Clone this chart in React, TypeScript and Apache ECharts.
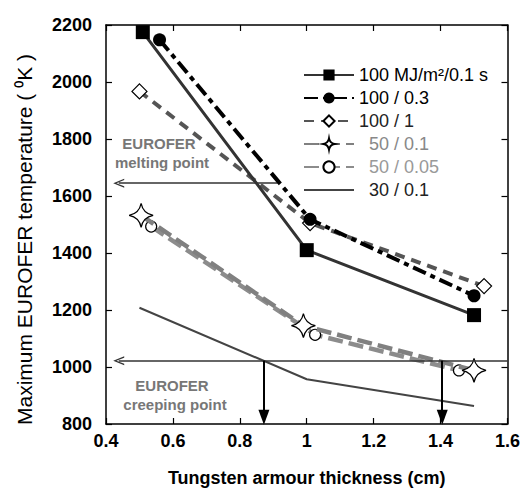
import React, { useEffect, useRef } from "react";
import * as echarts from "echarts";

const FONT = "'Liberation Sans', Arial, Helvetica, sans-serif";

// Legend / series names (display order)
const seriesNames = ["100 MJ/m²/0.1 s", "100 / 0.3", "100 / 1", "  50 / 0.1", "  50 / 0.05", "  30 / 0.1"];

// Tungsten thickness (cm) and max EUROFER temperature (K) for each case
const thickA = [0.51, 1.0, 1.5];
const tempA = [2175, 1410, 1182];
const thickB = [0.56, 1.01, 1.5];
const tempB = [2148, 1518, 1250];
const thickC = [0.5, 1.01, 1.53];
const tempC = [1967, 1505, 1284];
const thickD = [0.505, 0.99, 1.5];
const tempD = [1532, 1145, 988];
const thickE = [0.535, 1.025, 1.455];
const tempE = [1493, 1113, 988];
const thickF = [0.5, 1.0, 1.5];
const tempF = [1208, 957, 863];

// Annotations
const meltingPoint = 1645;
const meltingSpan = [0.438, 0.913];
const creepPoint = 1022;
const creepSpan = [0.438, 1.6];
const creepThickness = [0.872, 1.405];
const axisFloor = 824;

const STAR = "path://M10,0 Q11.6,8.4 20,10 Q11.6,11.6 10,20 Q8.4,11.6 0,10 Q8.4,8.4 10,0 Z";
const CHEVRON = "path://M5,0 L10,11 L8.4,11 L5,3.2 L1.6,11 L0,11 Z";

const pairs = (xs: number[], ys: number[]) => xs.map((x, i) => [x, ys[i]]);

export default function App() {
  const ref = useRef<HTMLDivElement>(null);
  useEffect(() => {
    document.body.style.margin = "0";
    if (!ref.current) return;
    const chart = echarts.init(ref.current, null, { renderer: "svg" });
    const axisCommon = {
      type: "value" as const,
      axisLine: { show: true, onZero: false, lineStyle: { color: "#000", width: 1.5 } },
      axisTick: { show: true, inside: true, length: 6, lineStyle: { color: "#000", width: 1.2 } },
      splitLine: { show: false },
    };
    const hArrow = (y: number, span: number[]) => [
      { coord: [span[0], y], symbol: CHEVRON, symbolSize: [9, 11], lineStyle: { color: "#333", width: 1.5, type: "solid" } },
      { coord: [span[1], y], symbol: "none", lineStyle: { color: "#333", width: 1.5, type: "solid" } },
    ];
    const vArrow = (x: number) => [
      { coord: [x, creepPoint], symbol: "none", lineStyle: { color: "#000", width: 2, type: "solid" } },
      { coord: [x, axisFloor], symbol: "triangle", symbolSize: [11, 15], itemStyle: { color: "#000" }, lineStyle: { color: "#000", width: 2, type: "solid" } },
    ];
    const annotText = { fontWeight: "bold" as const, fill: "#777", fontFamily: FONT, textAlign: "center" as const };
    chart.setOption({
      animation: false,
      backgroundColor: "#fff",
      textStyle: { fontFamily: FONT },
      grid: { left: 106, top: 25, right: 15, bottom: 65 },
      legend: {
        orient: "vertical",
        left: 298,
        top: 61,
        itemWidth: 50,
        itemHeight: 14,
        itemGap: 5,
        selectedMode: false,
        textStyle: { fontSize: 18, fontFamily: FONT, color: "#000" },
        data: [
          { name: seriesNames[0], textStyle: { color: "#000" } },
          { name: seriesNames[1], textStyle: { color: "#000" } },
          { name: seriesNames[2], textStyle: { color: "#222" } },
          { name: seriesNames[3], textStyle: { color: "#888" } },
          { name: seriesNames[4], textStyle: { color: "#999" } },
          { name: seriesNames[5], textStyle: { color: "#222" }, itemStyle: { opacity: 0 } },
        ],
      },
      xAxis: [
        {
          ...axisCommon,
          position: "bottom",
          min: 0.4,
          max: 1.6,
          interval: 0.2,
          name: "Tungsten armour thickness (cm)",
          nameLocation: "middle",
          nameGap: 45,
          nameTextStyle: { fontSize: 18, fontWeight: "bold", color: "#000", fontFamily: FONT },
          axisLabel: { fontSize: 18, fontWeight: "bold", color: "#000", margin: 8, fontFamily: FONT },
        },
        {
          ...axisCommon,
          position: "top",
          min: 0.4,
          max: 1.6,
          interval: 0.2,
          axisLabel: { show: false },
        },
      ],
      yAxis: [
        {
          ...axisCommon,
          position: "left",
          min: 800,
          max: 2200,
          interval: 200,
          name: "Maximum EUROFER temperature ( ⁰K )",
          nameLocation: "middle",
          nameGap: 71,
          nameTextStyle: { fontSize: 21, color: "#000", fontFamily: FONT, padding: [0, 30, 0, 0] },
          axisLabel: { fontSize: 18, fontWeight: "bold", color: "#000", margin: 14, fontFamily: FONT, formatter: (v: number) => String(v) },
        },
        {
          ...axisCommon,
          position: "right",
          min: 800,
          max: 2200,
          interval: 200,
          axisLabel: { show: false },
        },
      ],
      graphic: [
        { type: "text", x: 159, y: 136, style: { ...annotText, text: "EUROFER", fontSize: 15 } },
        { type: "text", x: 162, y: 155, style: { ...annotText, text: "melting point", fontSize: 15 } },
        { type: "text", x: 172, y: 378, style: { ...annotText, text: "EUROFER", fontSize: 15 } },
        { type: "text", x: 175, y: 397, style: { ...annotText, text: "creeping point", fontSize: 15 } },
      ],
      series: [
        {
          name: "annotations",
          type: "line",
          data: [],
          symbol: "none",
          silent: true,
          z: 1,
          markLine: {
            silent: true,
            animation: false,
            label: { show: false },
            emphasis: { disabled: true },
            data: [hArrow(meltingPoint, meltingSpan), hArrow(creepPoint, creepSpan), vArrow(creepThickness[0]), vArrow(creepThickness[1])],
          },
        },
        {
          name: seriesNames[5],
          type: "line",
          data: pairs(thickF, tempF),
          symbol: "none",
          z: 2,
          lineStyle: { color: "#444", width: 2, type: "solid" },
          itemStyle: { color: "#444" },
        },
        {
          name: seriesNames[4],
          type: "line",
          data: pairs(thickE, tempE),
          symbol: "circle",
          symbolSize: 11,
          z: 3,
          lineStyle: { color: "#8c8c8c", width: 4.5, type: [15, 6] },
          itemStyle: { color: "#fff", borderColor: "#000", borderWidth: 1.2 },
        },
        {
          name: seriesNames[3],
          type: "line",
          data: pairs(thickD, tempD),
          symbol: STAR,
          symbolSize: 24,
          z: 4,
          lineStyle: { color: "#808080", width: 4.5, type: [15, 6] },
          itemStyle: { color: "#fff", borderColor: "#000", borderWidth: 1.2 },
        },
        {
          name: seriesNames[2],
          type: "line",
          data: pairs(thickC, tempC),
          symbol: "diamond",
          symbolSize: 15,
          z: 5,
          lineStyle: { color: "#555", width: 4, type: [10, 7] },
          itemStyle: { color: "#fff", borderColor: "#000", borderWidth: 1.2 },
        },
        {
          name: seriesNames[1],
          type: "line",
          data: pairs(thickB, tempB),
          symbol: "circle",
          symbolSize: 13,
          z: 6,
          lineStyle: { color: "#000", width: 4, type: [14, 5, 5, 5] },
          itemStyle: { color: "#000" },
        },
        {
          name: seriesNames[0],
          type: "line",
          data: pairs(thickA, tempA),
          symbol: "rect",
          symbolSize: 14,
          z: 7,
          lineStyle: { color: "#333", width: 3, type: "solid" },
          itemStyle: { color: "#000" },
        },
      ],
    });
    return () => chart.dispose();
  }, []);
  return <div ref={ref} style={{ width: 523, height: 492 }} />;
}
